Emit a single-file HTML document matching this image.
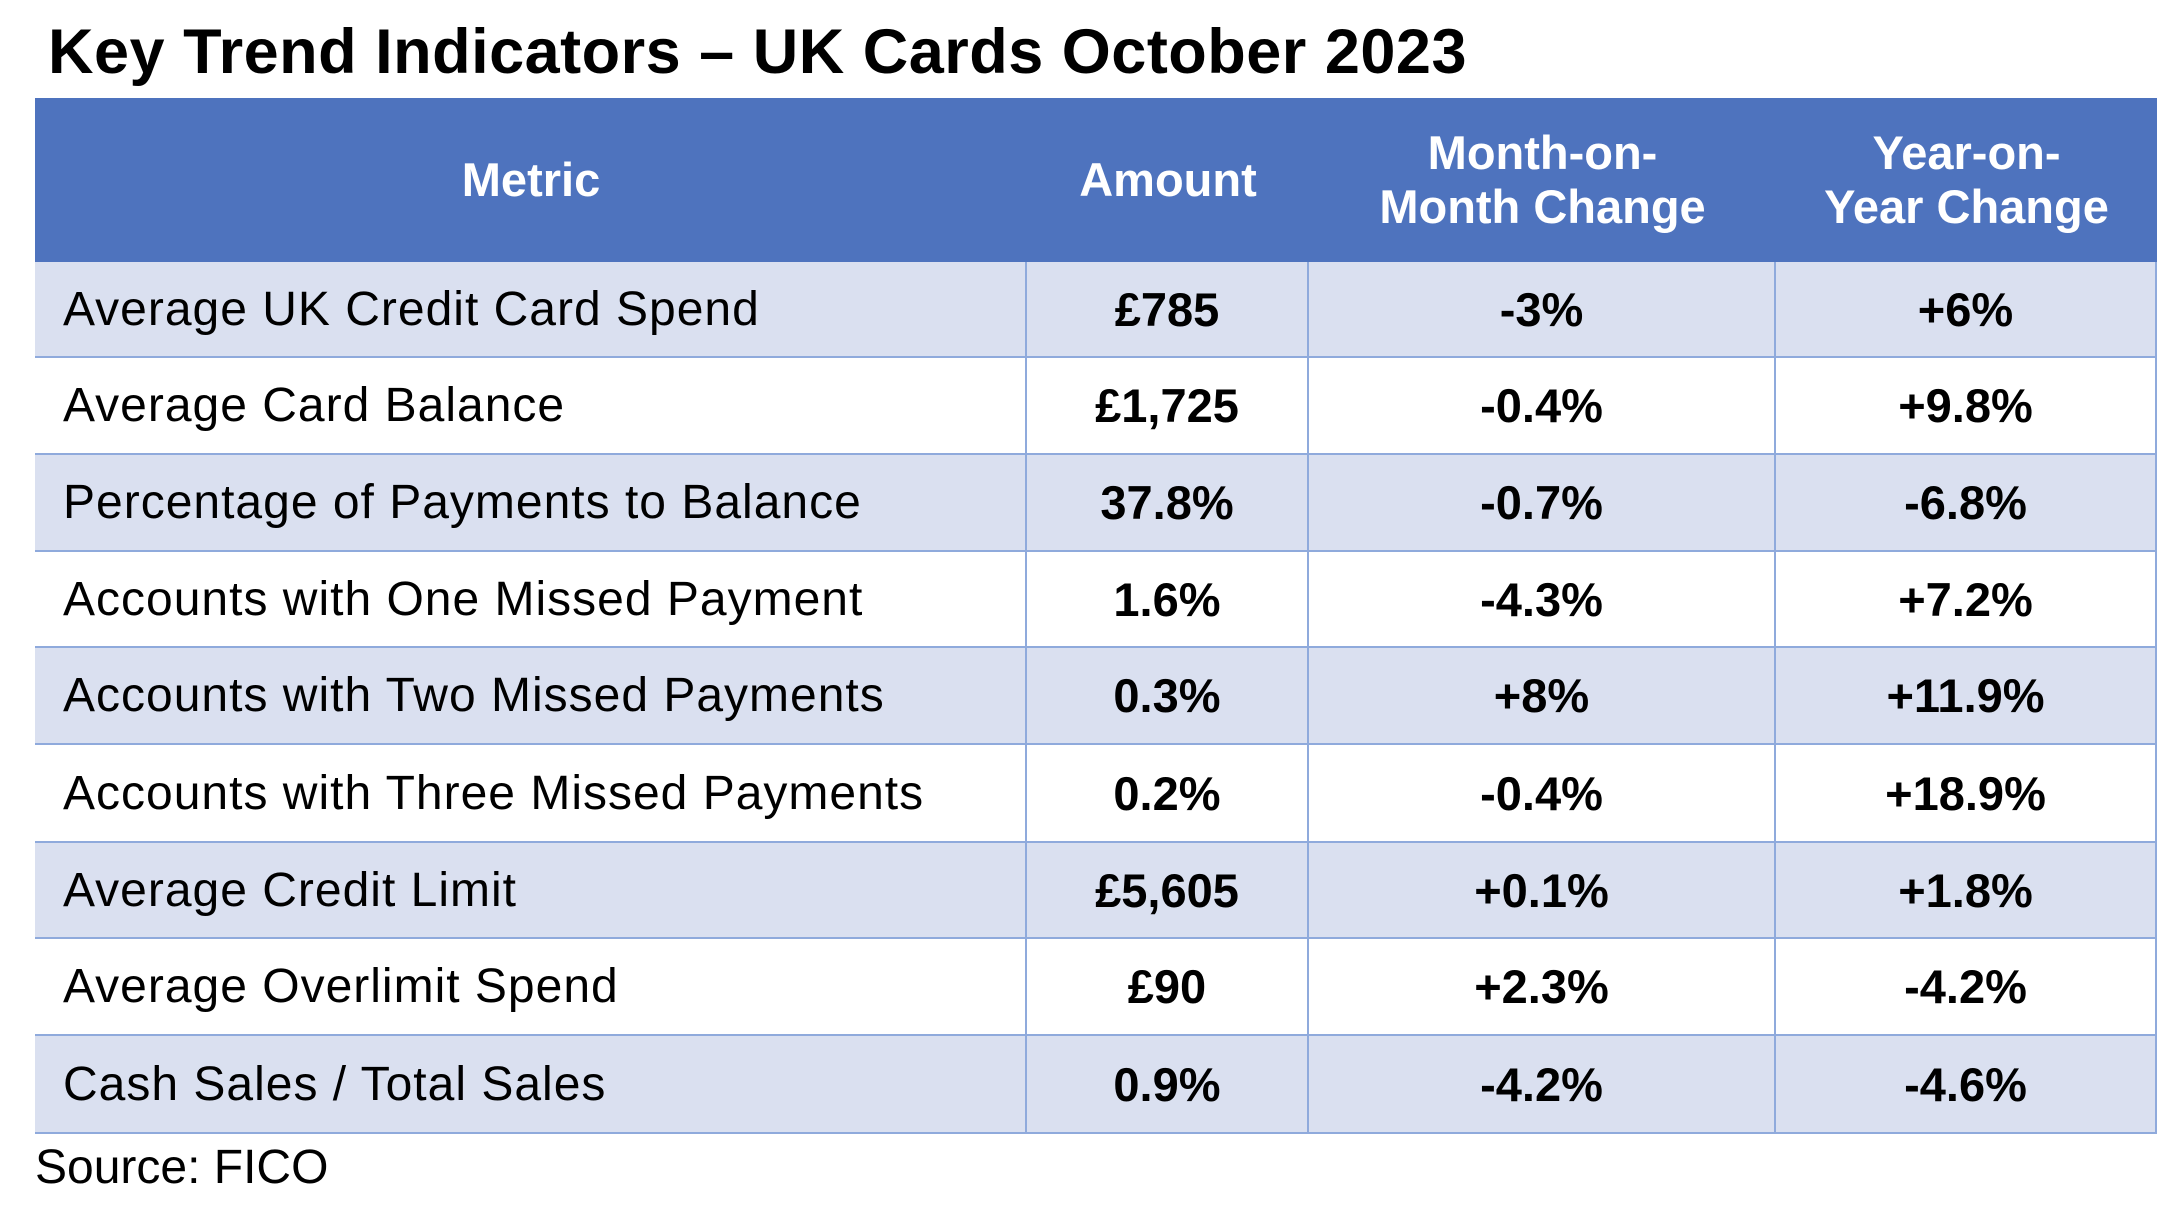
<!DOCTYPE html>
<html><head><meta charset="utf-8"><style>
body{margin:0;width:2184px;height:1206px;background:#fff;font-family:"Liberation Sans",sans-serif;position:relative;overflow:hidden}
.a{position:absolute}
#title{left:48px;top:16px;font-size:63px;font-weight:bold;color:#000;letter-spacing:0.5px}
.cell{position:absolute;display:flex;align-items:center;box-sizing:border-box;font-size:48px;color:#000}
.h{color:#fff;font-weight:bold;justify-content:center;text-align:center;font-size:47px;line-height:54px}
.v{justify-content:center;font-weight:bold;font-size:47px}
.m{padding-left:28px;letter-spacing:1px}
#src{left:35px;top:1140px;font-size:48px}
</style></head><body>
<div id="title" class="a">Key Trend Indicators – UK Cards October 2023</div>
<div id="table" class="a" style="left:35px;top:98px;width:2122px;height:1036px;border:2px solid #8faadc;box-sizing:border-box"></div>
<div id="src" class="a">Source: FICO</div>
<script>
const metrics=["Average UK Credit Card Spend","Average Card Balance","Percentage of Payments to Balance","Accounts with One Missed Payment","Accounts with Two Missed Payments","Accounts with Three Missed Payments","Average Credit Limit","Average Overlimit Spend","Cash Sales / Total Sales"];
const amounts=["£785","£1,725","37.8%","1.6%","0.3%","0.2%","£5,605","£90","0.9%"];
const momChanges=["-3%","-0.4%","-0.7%","-4.3%","+8%","-0.4%","+0.1%","+2.3%","-4.2%"];
const yoyChanges=["+6%","+9.8%","-6.8%","+7.2%","+11.9%","+18.9%","+1.8%","-4.2%","-4.6%"];
const headers=["Metric","Amount","Month-on-<br>Month Change","Year-on-<br>Year Change"];
const colX=[35,1027,1309,1776,2157];
const rowY=[262,358,455,552,648,745,843,939,1036,1134];
function add(x,y,w,h,html,cls,bg,name){
  const d=document.createElement('div');
  d.className='cell '+cls;
  d.style.cssText=`left:${x}px;top:${y}px;width:${w}px;height:${h}px;background:${bg};border-right:2px solid #8faadc;border-bottom:2px solid #8faadc`;
  d.innerHTML=html;
  
  
  document.body.appendChild(d);
}
headers.forEach((t,i)=>{
  const d=document.createElement('div');
  d.className='cell h';
  d.style.cssText=`left:${colX[i]}px;top:98px;width:${colX[i+1]-colX[i]}px;height:${rowY[0]-98}px;background:#4e73be`;
  d.innerHTML=t;
  
  
  document.body.appendChild(d);
});
metrics.forEach((m,r)=>{
  const bg=r%2===0?'#dae0f0':'#ffffff';
  const y=rowY[r],h=rowY[r+1]-rowY[r];
  const vals=[m,amounts[r],momChanges[r],yoyChanges[r]];
  vals.forEach((v,c)=>{
    add(colX[c],y,colX[c+1]-colX[c],h,v,c===0?'m':'v',bg,c===0?'metric-cell':'value-cell');
  });
});
</script>
</body></html>
